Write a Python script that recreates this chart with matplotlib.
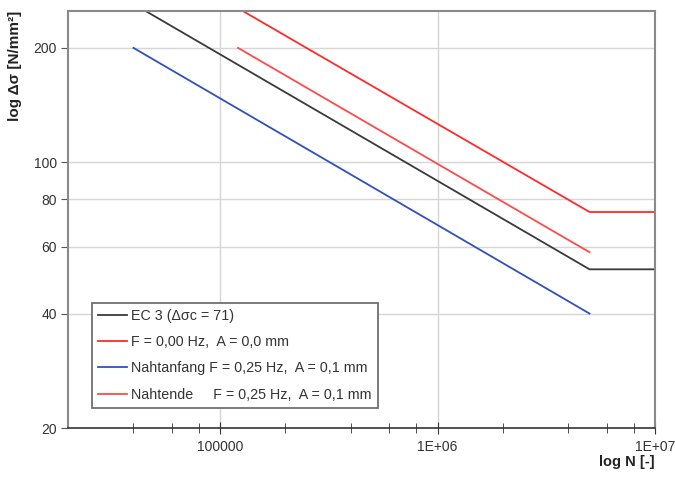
import matplotlib
matplotlib.use("Agg")
import matplotlib.pyplot as plt
from matplotlib.ticker import FixedLocator, NullFormatter

plt.rcParams['font.family'] = ['Liberation Sans', 'DejaVu Sans']

# EC 3 Wöhlerlinie (Δσc = 71)
n_ec3 = [4.0e4, 5.0e6, 1.0e7]
s_ec3 = [261, 52.3, 52.3]
# F = 0,00 Hz, A = 0,0 mm
n_f0 = [1.2e5, 5.0e6, 1.0e7]
s_f0 = [255, 74, 74]
# Nahtanfang F = 0,25 Hz, A = 0,1 mm
n_anf = [4.0e4, 5.0e6]
s_anf = [200, 40]
# Nahtende F = 0,25 Hz, A = 0,1 mm
n_end = [1.21e5, 5.0e6]
s_end = [200, 58]

labels = ["EC 3 (\u0394\u03c3c = 71)",
          "F = 0,00 Hz,  A = 0,0 mm",
          "Nahtanfang F = 0,25 Hz,  A = 0,1 mm",
          "Nahtende     F = 0,25 Hz,  A = 0,1 mm"]

y_ticks = [20, 40, 60, 80, 100, 200]
x_ticks = [1e5, 1e6, 1e7]
x_ticklabels = ["100000", "1E+06", "1E+07"]
x_minor = [4e4, 6e4, 8e4, 2e5, 4e5, 6e5, 8e5, 2e6, 4e6, 6e6, 8e6]

fig = plt.figure(figsize=(6.75, 4.8), dpi=100)
ax = fig.add_axes([0.1007, 0.1083, 0.8697, 0.8687])

ax.plot(n_ec3, s_ec3, color='#3a3a3a', lw=1.3, label=labels[0])
ax.plot(n_f0, s_f0, color='#ff2a2a', lw=1.3, label=labels[1])
ax.plot(n_anf, s_anf, color='#3050c0', lw=1.3, label=labels[2])
ax.plot(n_end, s_end, color='#ff4a4a', lw=1.3, label=labels[3])

ax.set_xscale('log')
ax.set_yscale('log')
ax.set_xlim(2e4, 1e7)
ax.set_ylim(20, 250)

ax.yaxis.set_major_locator(FixedLocator(y_ticks))
ax.yaxis.set_minor_locator(FixedLocator([]))
ax.set_yticklabels([str(v) for v in y_ticks])
ax.xaxis.set_major_locator(FixedLocator(x_ticks))
ax.set_xticklabels(x_ticklabels)
ax.xaxis.set_minor_locator(FixedLocator(x_minor))
ax.xaxis.set_minor_formatter(NullFormatter())

ax.grid(True, which='major', color='#d6d6d6', lw=1.0)
ax.set_axisbelow(True)

ax.tick_params(axis='y', direction='out', length=5, color='#555555',
               labelsize=10, labelcolor='#333333', pad=3)
ax.tick_params(axis='x', which='major', direction='inout', length=9,
               color='#333333', labelsize=10, labelcolor='#333333', pad=4)
ax.tick_params(axis='x', which='minor', direction='inout', length=7,
               color='#333333')

for side in ['top', 'right', 'left']:
    ax.spines[side].set_color('#8a8a8a')
    ax.spines[side].set_linewidth(1.5)
ax.spines['bottom'].set_color('#333333')
ax.spines['bottom'].set_linewidth(1.2)

ax.set_ylabel("log \u0394\u03c3 [N/mm\u00b2]", fontweight='bold', fontsize=11,
              color='#222222', labelpad=8, loc='top')
fig.text(0.9704, 0.022, "log N [-]", ha='right', va='bottom',
         fontweight='bold', fontsize=10.5, color='#222222')

leg = ax.legend(loc='lower left', bbox_to_anchor=(0.041, 0.048),
                fontsize=10.3, handlelength=2.0, handletextpad=0.28,
                borderpad=0.45, labelspacing=0.85, fancybox=False,
                framealpha=1, edgecolor='#707070', borderaxespad=0)
leg.get_frame().set_linewidth(1.3)
for t in leg.get_texts():
    t.set_color('#333333')

fig.savefig('out.png', dpi=100)
